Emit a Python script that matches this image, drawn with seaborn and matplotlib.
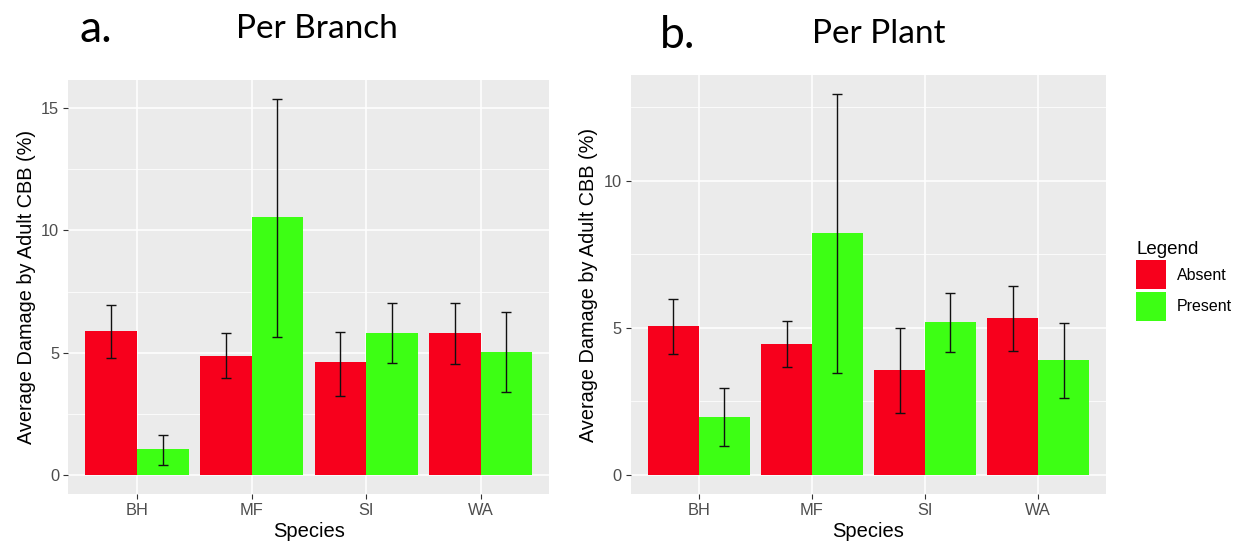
import matplotlib
matplotlib.use("Agg")
import matplotlib.pyplot as plt
import seaborn as sns
import pandas as pd
import numpy as np
from matplotlib.patches import Patch
from matplotlib.ticker import MultipleLocator

species = ["BH", "MF", "SI", "WA"]
groups = ["Absent", "Present"]

# Panel a: Per Branch
branch_absent = [5.88, 4.88, 4.61, 5.82]
branch_absent_lo = [4.79, 3.97, 3.25, 4.53]
branch_absent_hi = [6.97, 5.81, 5.85, 7.02]
branch_present = [1.08, 10.54, 5.82, 5.03]
branch_present_lo = [0.42, 5.65, 4.58, 3.38]
branch_present_hi = [1.65, 15.38, 7.02, 6.68]

# Panel b: Per Plant
plant_absent = [5.06, 4.46, 3.58, 5.33]
plant_absent_lo = [4.12, 3.66, 2.11, 4.22]
plant_absent_hi = [5.98, 5.23, 5.00, 6.43]
plant_present = [1.98, 8.22, 5.19, 3.92]
plant_present_lo = [1.00, 3.45, 4.17, 2.61]
plant_present_hi = [2.94, 12.95, 6.19, 5.18]

colors = {"Absent": "#f7001c", "Present": "#3dff14"}
grey_txt = "#4d4d4d"


def make_df(a, alo, ahi, p, plo, phi):
    rows = []
    for i, s in enumerate(species):
        rows.append(dict(Species=s, Legend="Absent", val=a[i], lo=alo[i], hi=ahi[i]))
    for i, s in enumerate(species):
        rows.append(dict(Species=s, Legend="Present", val=p[i], lo=plo[i], hi=phi[i]))
    return pd.DataFrame(rows)


fig = plt.figure(figsize=(12.39, 5.46), dpi=100)
ax_a = fig.add_axes([68.3 / 1239, 1 - 494 / 546, 481 / 1239, 414 / 546])
ax_b = fig.add_axes([631 / 1239, 1 - 494 / 546, 475 / 1239, 419 / 546])


def draw(ax, df, ymax):
    ax.set_facecolor("#ebebeb")
    sns.barplot(data=df, x="Species", y="val", hue="Legend", order=species,
                hue_order=groups, palette=colors, errorbar=None, width=0.9,
                saturation=1, legend=False, ax=ax, zorder=2)
    # bars ordered by hue then category
    for bar, (_, r) in zip(ax.patches, df.iterrows()):
        bar.set_edgecolor("none")
        xc = bar.get_x() + bar.get_width() / 2
        ax.errorbar(xc, r["val"], yerr=[[r["val"] - r["lo"]], [r["hi"] - r["val"]]],
                    fmt="none", ecolor="#111111", elinewidth=1.0, capsize=3.85,
                    capthick=1.0, zorder=3)
    ax.set_xlim(-0.6, 3.6)
    ax.set_ylim(-0.05 * ymax, ymax * 1.05)
    ax.yaxis.set_major_locator(MultipleLocator(5))
    ax.yaxis.set_minor_locator(MultipleLocator(2.5))
    ax.grid(which="major", color="white", linewidth=1.1, zorder=0)
    ax.grid(which="minor", axis="y", color="white", linewidth=0.55, zorder=0)
    ax.set_axisbelow(True)
    for sp in ax.spines.values():
        sp.set_visible(False)
    ax.tick_params(which="major", length=3.5, width=0.8, color="#333333",
                   labelsize=11.8, labelcolor=grey_txt, pad=3)
    ax.tick_params(which="minor", length=0)
    for t in ax.get_xticklabels() + ax.get_yticklabels():
        t.set_fontfamily("Liberation Sans")
    ax.set_xlabel("Species", fontsize=14.5, family="Liberation Sans", labelpad=3)
    ax.set_ylabel("Average Damage by Adult CBB (%)", fontsize=14.3,
                  family="Liberation Sans", labelpad=4)


df_a = make_df(branch_absent, branch_absent_lo, branch_absent_hi,
               branch_present, branch_present_lo, branch_present_hi)
df_b = make_df(plant_absent, plant_absent_lo, plant_absent_hi,
               plant_present, plant_present_lo, plant_present_hi)
draw(ax_a, df_a, max(branch_absent_hi + branch_present_hi))
draw(ax_b, df_b, max(plant_absent_hi + plant_present_hi))

fig.text(80 / 1239, 1 - 29 / 546, "a.", fontsize=32, family="Lato",
         ha="left", va="center")
fig.text(317 / 1239, 1 - 29 / 546, "Per Branch", fontsize=24, family="Lato",
         ha="center", va="center")
fig.text(660 / 1239, 1 - 35 / 546, "b.", fontsize=32, family="Lato",
         ha="left", va="center")
fig.text(879 / 1239, 1 - 34 / 546, "Per Plant", fontsize=24, family="Lato",
         ha="center", va="center")

handles = [Patch(facecolor=colors[g], edgecolor="none", label=g) for g in groups]
leg = fig.legend(handles=handles, title="Legend", loc="upper left",
                 bbox_to_anchor=(1136 / 1239, 1 - 241 / 546), frameon=False,
                 borderpad=0, borderaxespad=0,
                 handlelength=1.88, handleheight=2.42, handletextpad=0.68,
                 labelspacing=0.15, prop={"family": "Liberation Sans", "size": 11.5},
                 title_fontproperties={"family": "Liberation Sans", "size": 13.5})
leg._legend_box.align = "left"

fig.savefig("out.png", dpi=100, facecolor="white")
